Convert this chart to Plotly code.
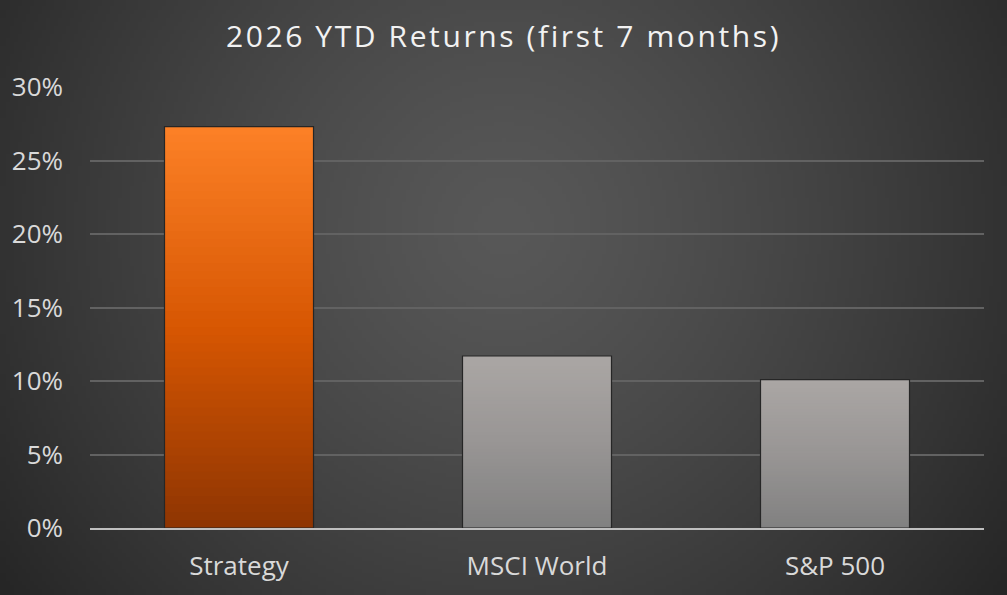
import base64
import struct
import zlib

import numpy as np
import plotly.graph_objects as go

# values
categories = ["Strategy", "MSCI World", "S&P 500"]
returns = [27.3, 11.7, 10.1]
tick_values = [0, 5, 10, 15, 20, 25, 30]
tick_labels = ["0%", "5%", "10%", "15%", "20%", "25%", "30%"]
title_text = "2026 YTD Returns (first 7 months)"

# gradient colours (top, middle, bottom) for each bar
top_colors = [(252, 128, 38), (170, 166, 164), (170, 166, 164)]
mid_colors = [(214, 86, 2), (152, 149, 148), (152, 149, 148)]
bottom_colors = [(140, 52, 2), (128, 128, 128), (128, 128, 128)]

W, H = 1007, 595
L, R, T, B = 90, 23, 87, 67


def png_data_uri(rgb):
    """Encode an HxWx3 uint8 array as a PNG data uri."""
    h, w, _ = rgb.shape
    raw = b"".join(b"\x00" + rgb[i].tobytes() for i in range(h))

    def chunk(tag, data):
        c = struct.pack(">I", len(data)) + tag + data
        return c + struct.pack(">I", zlib.crc32(tag + data) & 0xffffffff)

    png = b"\x89PNG\r\n\x1a\n"
    png += chunk(b"IHDR", struct.pack(">IIBBBBB", w, h, 8, 2, 0, 0, 0))
    png += chunk(b"IDAT", zlib.compress(raw, 9))
    png += chunk(b"IEND", b"")
    return "data:image/png;base64," + base64.b64encode(png).decode()


def background():
    """Radial dark-grey vignette like the Excel chart area."""
    w, h = 252, 149
    yy, xx = np.mgrid[0:h, 0:w]
    dx = (xx / (w - 1) - 0.5) * W
    dy = (yy / (h - 1) - 0.38) * H
    d = np.sqrt(dx ** 2 + dy ** 2) / np.sqrt((0.5 * W) ** 2 + (0.62 * H) ** 2)
    v = 88 - 50 * np.clip(d, 0, 1) ** 1.3
    img = np.clip(np.stack([v, v, v], axis=-1), 0, 255).astype(np.uint8)
    return png_data_uri(img)


def mix(c1, c2, t):
    return tuple(a + (b - a) * t for a, b in zip(c1, c2))


def grad(top, mid, bottom, t):
    # t = 0 at the bottom of the bar, 1 at the top
    c = mix(bottom, mid, t / 0.5) if t <= 0.5 else mix(mid, top, (t - 0.5) / 0.5)
    return "rgb(%d,%d,%d)" % tuple(round(v) for v in c)


fig = go.Figure()

# stacked overlays give each bar a vertical gradient
steps = 50
for k in range(steps, 0, -1):
    frac = k / steps
    colors = [grad(tc, mc, bc, frac) for tc, mc, bc in zip(top_colors, mid_colors, bottom_colors)]
    fig.add_trace(go.Bar(
        x=categories,
        y=[v * frac for v in returns],
        marker=dict(color=colors, line=dict(width=0)),
        hoverinfo="skip",
        showlegend=False,
    ))

# thin dark outline on top
fig.add_trace(go.Bar(
    x=categories,
    y=returns,
    marker=dict(color="rgba(0,0,0,0)", line=dict(color="#262626", width=1.2)),
    hovertemplate="%{x}: %{y:.1f}%<extra></extra>",
    showlegend=False,
))

fig.update_layout(
    width=W, height=H,
    margin=dict(l=L, r=R, t=T, b=B),
    barmode="overlay",
    bargap=0.5,
    paper_bgcolor="#404040",
    plot_bgcolor="rgba(0,0,0,0)",
    title=dict(text=title_text, x=0.5, xanchor="center", y=1 - 36 / H, yanchor="middle",
               font=dict(family="Open Sans", size=30, color="#f2f2f2")),
    font=dict(family="Open Sans", color="#d9d9d9"),
    images=[dict(source=background(), xref="paper", yref="paper",
                 x=-L / (W - L - R), y=1 + T / (H - T - B),
                 sizex=W / (W - L - R), sizey=H / (H - T - B),
                 xanchor="left", yanchor="top", sizing="stretch", layer="below")],
)

fig.update_xaxes(
    tickfont=dict(size=26, color="#d9d9d9"),
    showgrid=False, showline=True, linecolor="#bfbfbf", linewidth=2,
    ticks="", ticklabelstandoff=14,
)
fig.update_yaxes(
    range=[0, 30],
    tickvals=tick_values, ticktext=tick_labels,
    tickfont=dict(size=26, color="#d9d9d9"),
    showgrid=True, gridcolor="#626262", gridwidth=1.5,
    zeroline=False, showline=False, ticks="", ticklabelstandoff=26,
)

# page without body margin, and letter-spaced title like the original
post = ("document.body.style.margin='0';"
        "var t=document.querySelector('.gtitle');"
        "if(t){t.style.letterSpacing='2.6px';}")

fig.write_html("out.html", post_script=post, config={"displayModeBar": False})
